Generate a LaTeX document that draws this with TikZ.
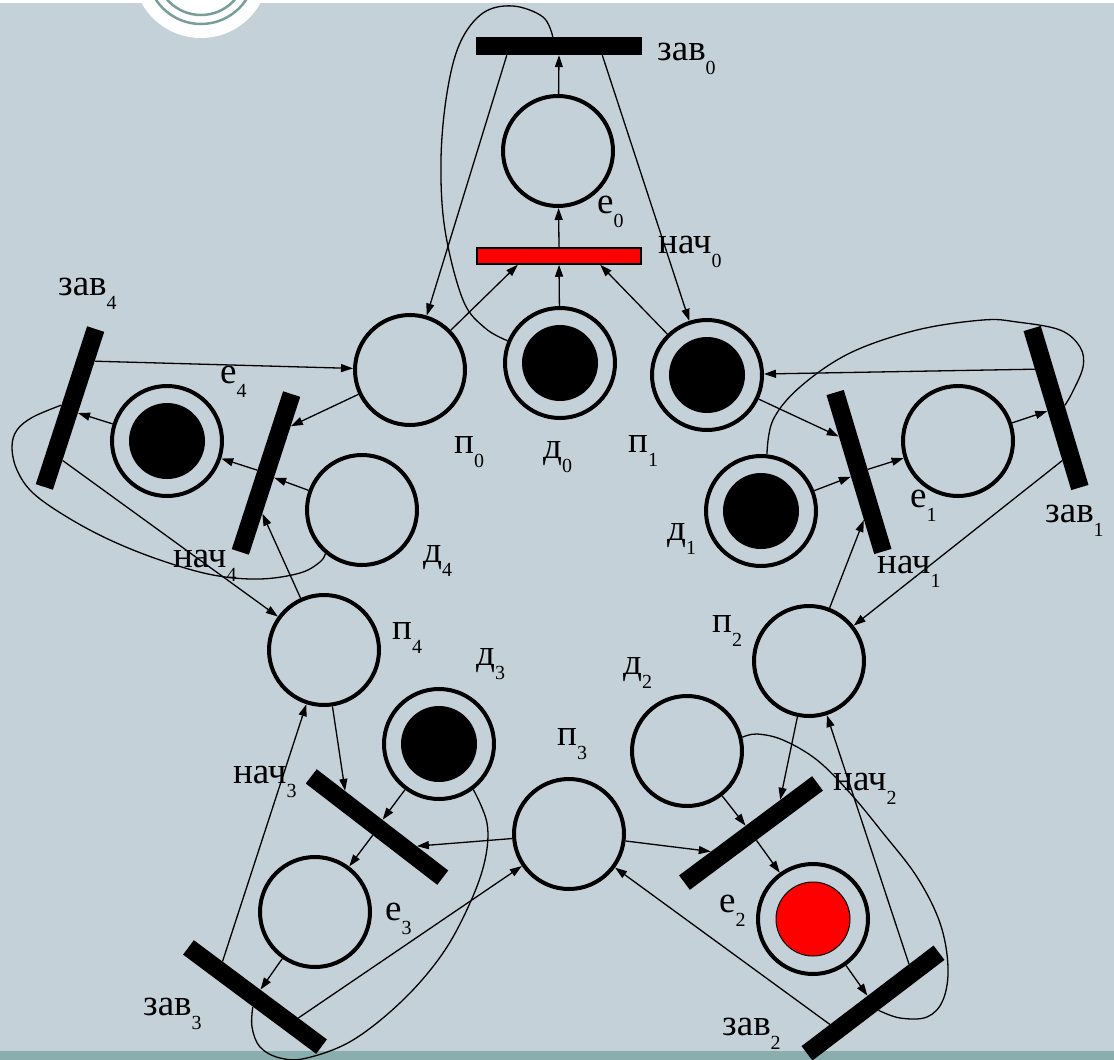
\documentclass[tikz,border=0pt]{standalone}
\usepackage{fontspec}
\setmainfont{Liberation Serif}
\usetikzlibrary{arrows.meta}

\definecolor{slide}{RGB}{197,209,216}
\definecolor{slidebar}{RGB}{138,173,173}
\definecolor{ring}{RGB}{120,158,152}

\newcommand{\lbl}[2]{#1\raisebox{-14pt}{\fontsize{20}{20}\selectfont #2}}

\begin{document}
\begin{tikzpicture} [
                x=1pt, y=-1pt,
                place/.style={circle,draw,line width=4pt,minimum size=110pt,inner sep=0pt},
                marked place/.style={place, path picture={\fill (path picture bounding box.center) circle[radius=38pt];}},
                red place/.style={place, path picture={\filldraw[fill=red,line width=1pt] (path picture bounding box.center) circle[radius=37pt];}},
                bar/.style={rectangle,fill=black,minimum width=166pt,minimum height=18pt,inner sep=0pt},
                red bar/.style={bar,fill=red,draw=black,line width=1.5pt,minimum width=164pt,minimum height=16pt},
                net arc/.style={draw,line width=1.3pt,-{Triangle[length=12pt,width=8pt]}},
                back arc/.style={draw,line width=1.3pt},
                label text/.style={anchor=base west,inner sep=0pt,font=\fontsize{37}{40}\selectfont}
            ]
            \useasboundingbox (0,0) rectangle (1114,1060);
            % slide background
            \fill[slide] (0,0) rectangle (1114,1060);
            \fill[white] (0,0) rectangle (1114,3);
            \fill[white] (201,-30) circle[radius=68pt];
            \draw[ring,line width=2.5pt] (201,-30) circle[radius=54pt] (201,-30) circle[radius=45pt];
            \fill[slidebar] (0,1051) rectangle (1114,1060);
            % First we draw the places
            \foreach \pos/\name in {
                {(558,151)/e0}, {(410,370)/p0}, {(958,441)/e1}, {(809,661)/p2}, {(687,751)/d2},
                {(569,834)/p3}, {(315,912)/e3}, {(324,650)/p4}, {(362,510)/d4}}
                \node[place] (\name) at \pos {};
            \foreach \pos/\name in {
                {(560,363)/d0}, {(707,375)/p1}, {(761,511)/d1}, {(439,744)/d3}, {(167,441)/e4}}
                \node[marked place] (\name) at \pos {};
            \node[red place] (e2) at (813,919) {};
            % then the transitions
            \foreach \pos/\ang/\name in {
                {(559,46)/0/zav0}, {(859,472)/-73.3/nach1}, {(1056,408)/-73.3/zav1},
                {(751,833)/36.7/nach2}, {(873,1003)/37.3/zav2}, {(377,827)/-37.6/nach3},
                {(255,997)/-36.7/zav3}, {(266,473)/72/nach4}, {(70,408)/72/zav4}}
                \node[bar,rotate=\ang] (\name) at \pos {};
            \node[red bar] (nach0) at (559,256) {};
            % Connect places and transitions
            \foreach \source/\dest in {
                d0/nach0.south, p0/nach0.-168, p1/nach0.-12, nach0.north/e0, e0/zav0.south, zav0.-170/p0, zav0.-12/p1,
                p1/nach1.-167, d1/nach1.-77, p2/nach1.-11, nach1.north/e1, e1/zav1.-87, zav1.-168/p1, zav1.-10/p2,
                p2/nach2.12, d2/nach2.north, p3/nach2.168, nach2.south/e2, e2/zav2.north, zav2.10/p2, zav2.169/p3,
                p4/nach3.169, d3/nach3.north, p3/nach3.12, nach3.-80/e3, e3/zav3.north, zav3.169/p4, zav3.11/p3,
                p0/nach4.-10, d4/nach4.-102, p4/nach4.-167, nach4.north/e4, e4/zav4.-104, zav4.-10/p0, zav4.-170/p4}
                \path[net arc] (\source) -- (\dest);
            % arcs back to the philosophers
            \path[back arc] plot[smooth,tension=0.6] coordinates {(zav0.124) (543,17) (513,6) (483,13) (460,43)
                (447,93) (441,160) (445,230) (463,300) (485,328) (d0.157)};
            \path[back arc] plot[smooth,tension=0.6] coordinates {(zav1.north) (1072,393) (1083,367) (1080,347)
                (1060,330) (1017,322) (983,320) (917,330) (850,353) (800,387) (773,420) (d1.84)};
            \path[back arc] plot[smooth,tension=0.6] coordinates {(zav2.south) (900,1018) (927,1017) (943,1000)
                (948,967) (940,923) (917,877) (883,833) (850,793) (817,760) (783,740) (757,734) (d2.14)};
            \path[back arc] plot[smooth,tension=0.6] coordinates {(zav3.-66) (252,1027) (260,1047) (280,1058)
                (307,1058) (353,1040) (403,1000) (443,953) (470,903) (485,860) (487,823) (d3.-53)};
            \path[back arc] plot[smooth,tension=0.6] coordinates {(zav4.north) (33,417) (17,430) (12,447)
                (17,470) (33,493) (67,517) (110,540) (160,560) (213,575) (260,579) (300,573) (320,562) (d4.-130)};
            % labels
            \foreach \pos/\txt/\i/\name in {
                {(657,60)/зав/0/lzav0}, {(597,213)/е/0/le0}, {(658,253)/нач/0/lnach0},
                {(454,453)/п/0/lp0}, {(543,458)/д/0/ld0}, {(628,452)/п/1/lp1},
                {(667,540)/д/1/ld1}, {(910,507)/е/1/le1}, {(877,573)/нач/1/lnach1}, {(1045,522)/зав/1/lzav1},
                {(712,632)/п/2/lp2}, {(623,674)/д/2/ld2}, {(833,790)/нач/2/lnach2}, {(719,912)/е/2/le2},
                {(722,1035)/зав/2/lzav2}, {(557,745)/п/3/lp3}, {(476,665)/д/3/ld3}, {(233,783)/нач/3/lnach3},
                {(385,920)/е/3/le3}, {(143,1015)/зав/3/lzav3}, {(392,639)/п/4/lp4}, {(58,295)/зав/4/lzav4},
                {(220,383)/е/4/le4}, {(173,567)/нач/4/lnach4}, {(423,562)/д/4/ld4}}
                \node[label text] (\name) at \pos {\lbl{\txt}{\i}};
        \end{tikzpicture}
\end{document}
